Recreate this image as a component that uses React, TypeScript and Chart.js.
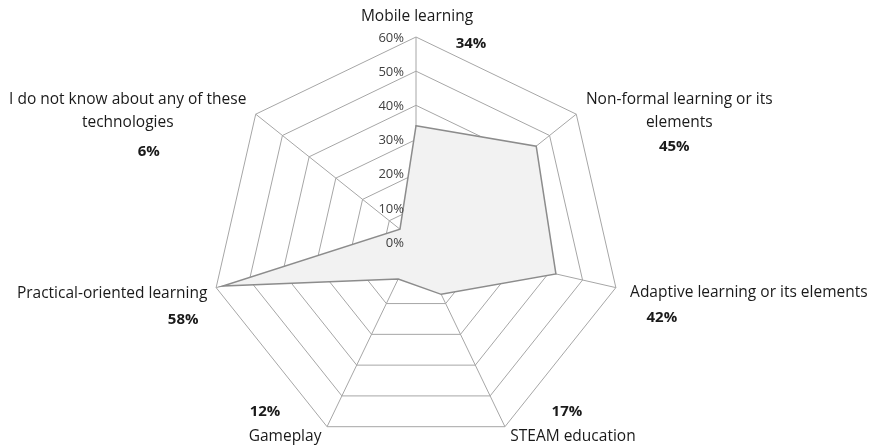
import { useEffect, useRef } from 'react';
import { Chart, registerables } from 'chart.js';

Chart.register(...registerables);

const categories = [
  'Mobile learning',
  'Non-formal learning or its elements',
  'Adaptive learning or its elements',
  'STEAM education',
  'Gameplay',
  'Practical-oriented learning',
  'I do not know about any of these technologies',
];
const categoryLines = [
  ['Mobile learning'],
  ['Non-formal learning or its', 'elements'],
  ['Adaptive learning or its elements'],
  ['STEAM education'],
  ['Gameplay'],
  ['Practical-oriented learning'],
  ['I do not know about any of these', 'technologies'],
];
const values = [34, 45, 42, 17, 12, 58, 6];
const valueLabels = values.map((v) => v + '%');
const tickValues = [0, 10, 20, 30, 40, 50, 60];
const tickLabels = tickValues.map((v) => v + '%');

// label placement relative to each axis' outer vertex (styling only)
const nameOffsets = [
  [1, -20], [103, -15], [133, 5], [68, 10], [-42, 10], [-104, 6], [-128, -15],
];
const valueOffsets = [
  [55, 7], [98, 33], [46, 30], [62, -15], [-62, -15], [-33, 32], [-107, 38],
];

const FONT = '"Open Sans", Lato, "Liberation Sans", sans-serif';

const labelPlugin = {
  id: 'customLabels',
  afterDraw(chart: any) {
    const ctx = chart.ctx;
    const scale = chart.scales.r;
    ctx.save();
    // tick labels
    ctx.font = `13px ${FONT}`;
    ctx.fillStyle = '#404040';
    ctx.textAlign = 'right';
    ctx.textBaseline = 'middle';
    tickValues.forEach((v, i) => {
      const y = scale.yCenter - scale.getDistanceFromCenterForValue(v);
      ctx.fillText(tickLabels[i], scale.xCenter - 12, y + 1);
    });
    // point labels
    const outer = scale.getDistanceFromCenterForValue(scale.max);
    ctx.textAlign = 'center';
    categoryLines.forEach((lines, i) => {
      const p = scale.getPointPosition(i, outer);
      ctx.font = `15.5px ${FONT}`;
      ctx.fillStyle = '#1a1a1a';
      lines.forEach((line, j) => {
        ctx.fillText(line, p.x + nameOffsets[i][0], p.y + nameOffsets[i][1] + j * 23);
      });
      ctx.font = `bold 15px ${FONT}`;
      ctx.fillText(valueLabels[i], p.x + valueOffsets[i][0], p.y + valueOffsets[i][1]);
    });
    ctx.restore();
  },
};

export default function App() {
  const ref = useRef<HTMLCanvasElement>(null);
  useEffect(() => {
    if (!ref.current) return;
    const chart = new Chart(ref.current, {
      type: 'radar',
      data: {
        labels: categories,
        datasets: [
          {
            data: values,
            backgroundColor: '#f2f2f2',
            borderColor: '#8c8c8c',
            borderWidth: 1.5,
            pointRadius: 0,
            fill: true,
          },
        ],
      },
      options: {
        responsive: false,
        animation: false,
        layout: { padding: { top: 37, bottom: 0, left: 0, right: 42 } },
        plugins: { legend: { display: false }, tooltip: { enabled: false } },
        scales: {
          r: {
            min: 0,
            max: 60,
            ticks: { stepSize: 10, display: false },
            grid: { color: '#a6a6a6', lineWidth: 1 },
            angleLines: { color: '#a6a6a6', lineWidth: 1 },
            pointLabels: { display: false },
          },
        },
      },
      plugins: [labelPlugin],
    });
    return () => chart.destroy();
  }, []);
  return (
    <div style={{ position: 'fixed', left: 0, top: 0, width: 874, height: 448, background: '#fff' }}>
      <canvas ref={ref} width={874} height={448} />
    </div>
  );
}
